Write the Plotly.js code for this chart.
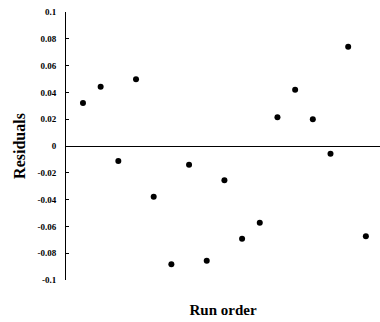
<!DOCTYPE html>
<html>
<head>
<meta charset="utf-8">
<script src="https://cdn.plot.ly/plotly-3.0.1.min.js"></script>
<style>html,body{margin:0;padding:0;background:#fff;}#chart{width:380px;height:322px;}</style>
</head>
<body>
<div id="chart"></div>
<script>
var runOrder = [1,2,3,4,5,6,7,8,9,10,11,12,13,14,15,16,17];
var residuals = [0.032,0.0443,-0.0112,0.0498,-0.0378,-0.0883,-0.014,-0.0856,-0.0256,-0.0692,-0.0572,0.0214,0.042,0.0199,-0.0057,0.0741,-0.0674];
var yTickVals = [-0.1,-0.08,-0.06,-0.04,-0.02,0,0.02,0.04,0.06,0.08,0.1];
var yTickText = ['-0.1','-0.08','-0.06','-0.04','-0.02','0','0.02','0.04','0.06','0.08','0.1'];

var trace = {
  x: runOrder, y: residuals, type: 'scatter', mode: 'markers',
  marker: {symbol: 'circle', size: 6, color: '#000'},
  hoverinfo: 'none'
};
var layout = {
  width: 380, height: 322,
  margin: {l: 66, r: 0, t: 12, b: 42},
  paper_bgcolor: '#fff', plot_bgcolor: '#fff',
  showlegend: false,
  font: {family: '"Liberation Serif", "Times New Roman", serif', color: '#000'},
  xaxis: {
    range: [0.04, 17.8], showgrid: false, zeroline: false, showline: false,
    showticklabels: false, ticks: '',
    title: {text: '<b>Run order</b>', font: {size: 15, family: '"Liberation Serif", serif'}, standoff: 24}
  },
  yaxis: {
    range: [-0.1, 0.1], showgrid: false,
    zeroline: true, zerolinecolor: '#000', zerolinewidth: 1,
    showline: true, linecolor: '#000', linewidth: 1,
    ticks: 'inside', ticklen: 3, tickcolor: '#000',
    tickvals: yTickVals, ticktext: yTickText.map(function(t){return '<b>'+t+'</b>';}),
    tickfont: {size: 9, family: '"Liberation Serif", serif'},
    ticklabelstandoff: 7,
    title: {text: '<b>Residuals</b>', font: {size: 16, family: '"Liberation Serif", serif'}, standoff: 7}
  }
};
Plotly.newPlot('chart', [trace], layout, {staticPlot: true, displayModeBar: false});
</script>
</body>
</html>
